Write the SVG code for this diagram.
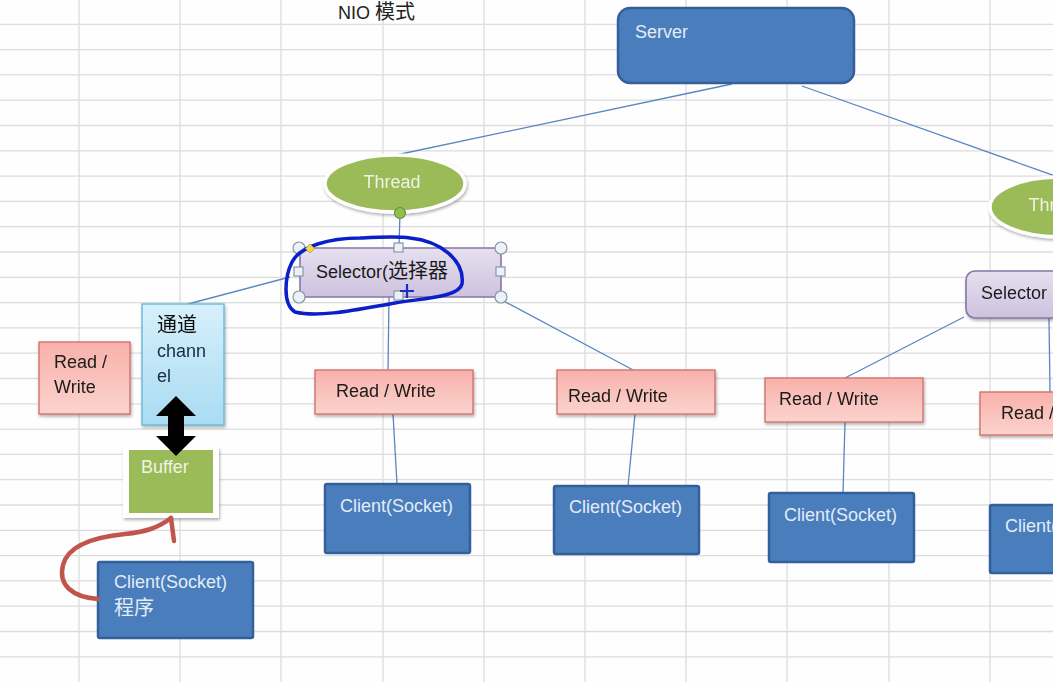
<svg xmlns="http://www.w3.org/2000/svg" width="1053" height="682" viewBox="0 0 1053 682">
<defs>
<style>
.grid line{stroke:#dcdcdc;stroke-width:1.3}
.t{font-family:"Liberation Sans","Noto Sans CJK SC",sans-serif;font-size:18px}
.cjk{font-family:"Noto Sans CJK SC","Liberation Sans",sans-serif;font-size:20px}
.blue{fill:#4a7dbc;stroke:#34609a;stroke-width:2.5}
.blue-t{fill:#e2ecf7}
.rw{fill:url(#gRw);stroke:#d2736c;stroke-width:1.4}
.sel{fill:url(#gSel);stroke:#8676a6;stroke-width:1.6}
.thr{fill:#9bbb59;stroke:#ffffff;stroke-width:3.5}
.conn line{stroke:#5a86c2;stroke-width:1.3}
.handle{fill:#eaf1f8;stroke:#8a96a3;stroke-width:1.2}
</style>
<linearGradient id="gRw" x1="0" y1="0" x2="0" y2="1">
<stop offset="0" stop-color="#f7b1aa"/><stop offset="1" stop-color="#fcd3ce"/>
</linearGradient>
<linearGradient id="gSel" x1="0" y1="0" x2="0" y2="1">
<stop offset="0" stop-color="#e6e0ef"/><stop offset="1" stop-color="#cdc2df"/>
</linearGradient>
<linearGradient id="gCh" x1="0" y1="0" x2="0" y2="1">
<stop offset="0" stop-color="#d6f0fb"/><stop offset="1" stop-color="#a9dcf3"/>
</linearGradient>
<filter id="sh" x="-20%" y="-20%" width="140%" height="150%">
<feDropShadow dx="1" dy="2" stdDeviation="1.5" flood-color="#000" flood-opacity="0.3"/>
</filter>
</defs>
<rect width="1053" height="682" fill="#fdfefd"/>
<g class="grid">
<line x1="79" y1="0" x2="79" y2="682"/><line x1="180" y1="0" x2="180" y2="682"/><line x1="281" y1="0" x2="281" y2="682"/><line x1="383" y1="0" x2="383" y2="682"/><line x1="484" y1="0" x2="484" y2="682"/><line x1="585" y1="0" x2="585" y2="682"/><line x1="686" y1="0" x2="686" y2="682"/><line x1="787" y1="0" x2="787" y2="682"/><line x1="889" y1="0" x2="889" y2="682"/><line x1="990" y1="0" x2="990" y2="682"/>
<line x1="0" y1="24.3" x2="1053" y2="24.3"/><line x1="0" y1="49.6" x2="1053" y2="49.6"/><line x1="0" y1="74.9" x2="1053" y2="74.9"/><line x1="0" y1="100.2" x2="1053" y2="100.2"/><line x1="0" y1="125.5" x2="1053" y2="125.5"/><line x1="0" y1="150.8" x2="1053" y2="150.8"/><line x1="0" y1="176.1" x2="1053" y2="176.1"/><line x1="0" y1="201.4" x2="1053" y2="201.4"/><line x1="0" y1="226.7" x2="1053" y2="226.7"/><line x1="0" y1="252" x2="1053" y2="252"/><line x1="0" y1="277.3" x2="1053" y2="277.3"/><line x1="0" y1="302.6" x2="1053" y2="302.6"/><line x1="0" y1="327.9" x2="1053" y2="327.9"/><line x1="0" y1="353.2" x2="1053" y2="353.2"/><line x1="0" y1="378.5" x2="1053" y2="378.5"/><line x1="0" y1="403.8" x2="1053" y2="403.8"/><line x1="0" y1="429.1" x2="1053" y2="429.1"/><line x1="0" y1="454.4" x2="1053" y2="454.4"/><line x1="0" y1="479.7" x2="1053" y2="479.7"/><line x1="0" y1="505" x2="1053" y2="505"/><line x1="0" y1="530.3" x2="1053" y2="530.3"/><line x1="0" y1="555.6" x2="1053" y2="555.6"/><line x1="0" y1="580.9" x2="1053" y2="580.9"/><line x1="0" y1="606.2" x2="1053" y2="606.2"/><line x1="0" y1="631.5" x2="1053" y2="631.5"/><line x1="0" y1="656.8" x2="1053" y2="656.8"/>
</g>
<text class="t" x="338" y="19" font-size="17" fill="#222">NIO <tspan class="cjk" font-size="19">模式</tspan></text>
<g id="connectors" class="conn">
<line x1="732" y1="84" x2="396" y2="155"/>
<line x1="802" y1="86" x2="1058" y2="177"/>
<line x1="400" y1="212" x2="399" y2="248"/>
<line x1="290" y1="277" x2="188" y2="304"/>
<line x1="389" y1="297" x2="388" y2="371"/>
<line x1="498" y1="298" x2="635" y2="371"/>
<line x1="393" y1="414" x2="397" y2="484"/>
<line x1="635" y1="414" x2="628" y2="486"/>
<line x1="964" y1="317" x2="845" y2="378"/>
<line x1="845" y1="422" x2="843" y2="493"/>
<line x1="1049" y1="318" x2="1050" y2="392"/>
</g>
<g id="server"><rect class="blue" x="618" y="8" width="236" height="75" rx="12"/><text class="t blue-t" x="635" y="38">Server</text></g>
<g id="thread1" filter="url(#sh)"><ellipse class="thr" cx="395" cy="183.5" rx="70" ry="28.5"/><text class="t" x="392" y="188" text-anchor="middle" fill="#eef3e2">Thread</text></g>
<g id="thread2" filter="url(#sh)"><ellipse class="thr" cx="1060" cy="207" rx="70" ry="30"/><text class="t" x="1057" y="211" text-anchor="middle" fill="#eef3e2">Thread</text></g>
<g id="selector1"><rect class="sel" x="300" y="248" width="201" height="49" rx="3"/><text class="t" x="316" y="278" fill="#1a1a1a">Selector(<tspan class="cjk" font-size="22">选择器</tspan></text></g>
<g id="selector2" filter="url(#sh)"><rect class="sel" x="966" y="271" width="200" height="47" rx="9"/><text class="t" x="981" y="299" fill="#1a1a1a">Selector</text></g>
<g id="rw0" filter="url(#sh)"><rect class="rw" x="39" y="342" width="91" height="72"/><text class="t" x="54" y="368" fill="#1a1a1a">Read /</text><text class="t" x="54" y="393" fill="#1a1a1a">Write</text></g>
<g id="rw1" filter="url(#sh)"><rect class="rw" x="315" y="370" width="158" height="44"/><text class="t" x="336" y="397" fill="#1a1a1a">Read / Write</text></g>
<g id="rw2" filter="url(#sh)"><rect class="rw" x="557" y="370" width="158" height="44"/><text class="t" x="568" y="402" fill="#1a1a1a">Read / Write</text></g>
<g id="rw3" filter="url(#sh)"><rect class="rw" x="765" y="378" width="158" height="44"/><text class="t" x="779" y="405" fill="#1a1a1a">Read / Write</text></g>
<g id="rw4" filter="url(#sh)"><rect class="rw" x="980" y="392" width="158" height="43"/><text class="t" x="1001" y="419" fill="#1a1a1a">Read / Write</text></g>
<g id="channel" filter="url(#sh)"><rect x="142" y="304" width="82" height="121" fill="url(#gCh)" stroke="#68b8dc" stroke-width="1.4"/><text class="cjk" x="157" y="332" fill="#111">通道</text><text class="t" x="157" y="357" fill="#1a2a44">chann</text><text class="t" x="157" y="382" fill="#1a2a44">el</text></g>
<g id="buffer"><rect x="123" y="447" width="96" height="71" fill="#ffffff" filter="url(#sh)"/><rect x="129" y="450" width="84" height="63" fill="#9bbb59"/><text class="t" x="141" y="473" fill="#eef3e2">Buffer</text></g>
<g id="arrow-channel-buffer"><polygon points="176,396 196,416 184,416 184,436 196,436 176,456 156,436 168,436 168,416 156,416" fill="#000"/></g>
<g id="client1"><rect class="blue" x="325" y="484" width="145" height="69" rx="2"/><text class="t blue-t" x="340" y="512">Client(Socket)</text></g>
<g id="client2"><rect class="blue" x="554" y="486" width="145" height="68" rx="2"/><text class="t blue-t" x="569" y="513">Client(Socket)</text></g>
<g id="client3"><rect class="blue" x="769" y="493" width="145" height="69" rx="2"/><text class="t blue-t" x="784" y="521">Client(Socket)</text></g>
<g id="client4"><rect class="blue" x="990" y="505" width="145" height="68" rx="2"/><text class="t blue-t" x="1005" y="532">Client(Socket)</text></g>
<g id="client-program"><rect class="blue" x="98" y="562" width="155" height="76" rx="2"/><text class="t blue-t" x="114" y="588">Client(Socket)</text><text class="cjk blue-t" x="114" y="615">程序</text></g>
<g id="curved-arrow" fill="none" stroke="#c0564b" stroke-width="4.5" stroke-linecap="round" stroke-linejoin="round">
<path d="M98,599 C72,597 58,585 63,565 C68,545 95,537 125,534 C145,532 158,528 171,518"/>
<path d="M171,518 L174,541"/>
</g>
<g id="selection-handles">
<circle cx="400" cy="213" r="5.5" fill="#8dc24a" stroke="#6e8a50" stroke-width="1.2"/>
<circle class="handle" cx="299" cy="248" r="6"/><circle class="handle" cx="501" cy="248" r="6"/><circle class="handle" cx="299" cy="297" r="6"/><circle class="handle" cx="501" cy="297" r="6"/>
<rect class="handle" x="394" y="243" width="9" height="9"/><rect class="handle" x="294" y="267" width="9" height="9"/><rect class="handle" x="496" y="267" width="9" height="9"/><rect class="handle" x="394" y="291" width="9" height="9"/>
</g>
<path id="annotation-loop" d="M410,238 C440,241 465,260 462,284 C459,297 425,298 395,303 C360,309 320,318 295,312 C282,304 285,276 292,262 C300,246 330,238 360,238 C380,237 398,236 410,238" fill="none" stroke="#0a1fc8" stroke-width="3.5" stroke-linecap="round"/>
<polygon id="yellow-handle" points="310,244 314.5,248.5 310,253 305.5,248.5" fill="#f5d84a" stroke="#b59a20" stroke-width="0.8"/>
<path id="cursor" d="M407,284 V298 M400,291 H414" stroke="#1a2fc0" stroke-width="2.2" fill="none"/>
</svg>
